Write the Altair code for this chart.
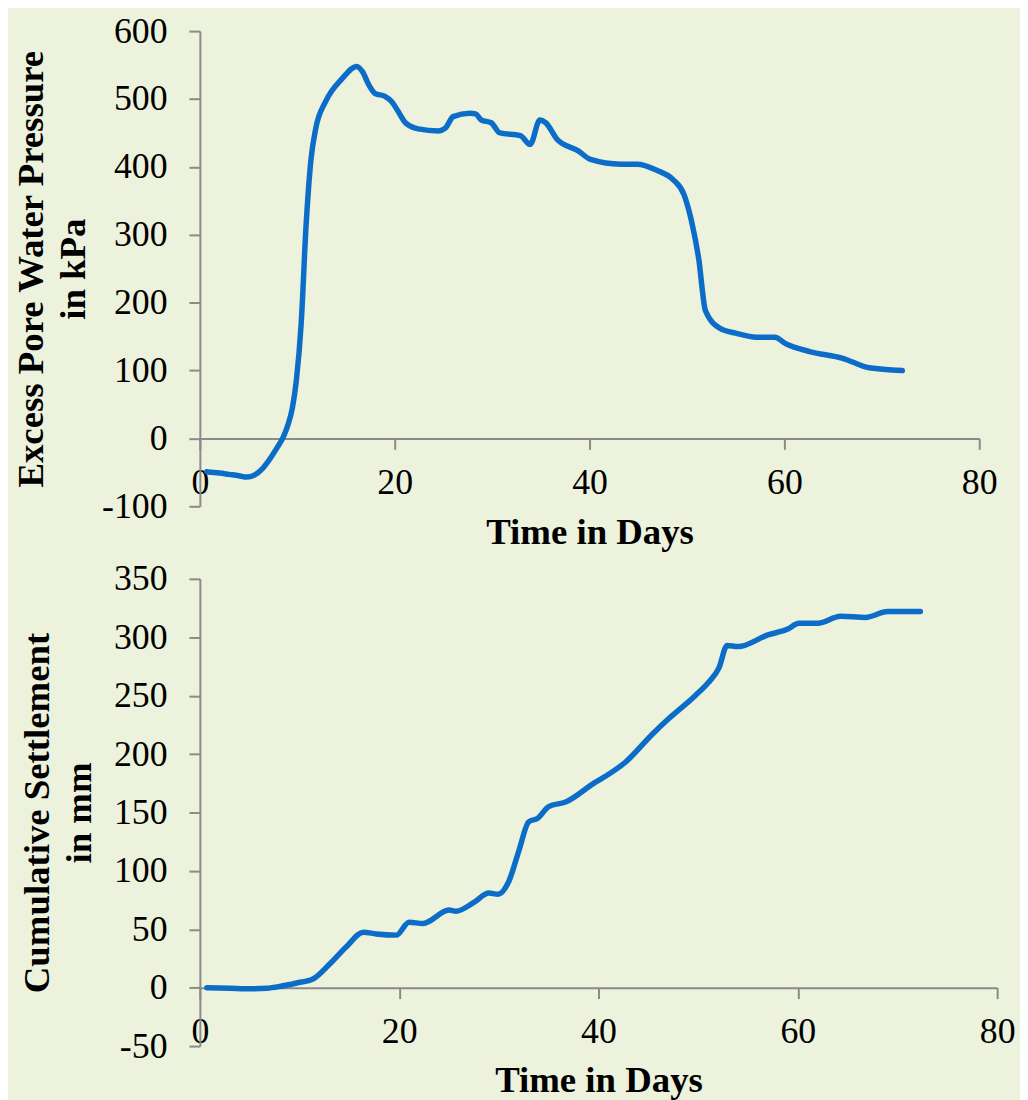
import altair as alt
import pandas as pd

# ---- data ----
days_p = [0.7, 2, 3, 4, 4.8, 5.6, 6.4, 7.2, 8, 8.5, 9, 9.5, 9.9, 10.4, 10.9,
          11.4, 11.9, 12.9, 14.6, 16.1, 16.7, 17.3, 18.0, 19.0, 19.7, 20.3,
          21.1, 22.4, 24.5, 25.2, 26.0, 27.7, 28.3, 28.9, 29.9, 30.8, 32.9,
          33.9, 34.9, 35.5, 36.7, 38.8, 40.1, 43.2, 44.9, 46.9, 48.6, 49.7,
          50.5, 51.2, 51.9, 53.4, 55.0, 57.1, 59.0, 60.2, 62.6, 66.0, 68.7, 72.1]
pressure = [-49, -51, -53, -55, -57, -54, -45, -30, -12, 0, 18, 45, 85, 169, 313,
            410, 457, 496, 530, 548, 540, 522, 508, 504, 496, 483,
            465, 456, 453, 457, 474, 479, 478, 469, 465, 450, 446,
            433, 469, 465, 440, 424, 411, 404, 404, 395, 381, 359,
            318, 265, 188, 162, 155, 149, 149, 139, 128, 118, 104, 100]

days_s = [0.7, 3, 5, 6.7, 8, 9.7, 11.4, 13, 14.7, 16.4, 17.7, 19.7, 21, 22.4,
          25, 25.7, 27.5, 29, 29.9, 31, 32, 33, 33.9, 35, 36.7, 39.7, 40.7,
          42.7, 45.4, 47, 49.7, 51, 52.1, 52.9, 54, 57, 59, 60.1, 62, 64.3,
          66.8, 69, 72.3]
settle = [0, -0.5, -1, -0.5, 1, 4, 7.7, 20, 35, 47.5, 46, 45, 56, 55,
          66.5, 65.5, 73, 81, 80, 91, 117, 142, 145, 155, 159, 176, 181,
          193, 217, 230, 250, 261, 274, 293, 292, 302, 307, 312, 312, 318,
          317, 322, 322]

x_ticks = [0, 20, 40, 60, 80]
p_ticks = [-100, 0, 100, 200, 300, 400, 500, 600]
s_ticks = [-50, 0, 50, 100, 150, 200, 250, 300, 350]

FONT = "Liberation Serif"
BG = "#EDF2DC"
LINE = "#0B6DC7"
AXIS = "#8A8A8A"


def panel(days, vals, ytitle, ydomain, yticks, width, height, title_pad, x_title_pad):
    df = pd.DataFrame({"day": days, "val": vals})
    # x axis crosses the y axis at value 0
    off = -height * (0 - ydomain[0]) / (ydomain[1] - ydomain[0])
    x = alt.X("day:Q",
              scale=alt.Scale(domain=[0, 80], nice=False, zero=False),
              axis=alt.Axis(values=x_ticks, title="Time in Days", offset=off,
                            labelFlush=False, labelPadding=16,
                            titlePadding=x_title_pad, labelOverlap=False))
    y = alt.Y("val:Q",
              scale=alt.Scale(domain=ydomain, nice=False, zero=False),
              axis=alt.Axis(values=yticks, title=ytitle, titlePadding=title_pad,
                            labelPadding=22, labelExpr="'' + datum.value",
                            labelOverlap=False))
    return (alt.Chart(df)
            .mark_line(color=LINE, strokeWidth=5.5, interpolate="monotone",
                       strokeCap="round", strokeJoin="round")
            .encode(x=x, y=y)
            .properties(width=width, height=height))


top = panel(days_p, pressure, ["Excess Pore Water Pressure", "in kPa"],
            [-100, 600], p_ticks, 784, 478, 9, 15)
bottom = panel(days_s, settle, ["Cumulative Settlement", "in mm"],
               [-50, 350], s_ticks, 802, 470, 15, 13)

chart = (alt.vconcat(top, bottom, spacing=10)
         .properties(background=BG,
                     padding={"left": 5, "top": 2, "right": 5, "bottom": 0})
         .configure_view(stroke=None)
         .configure_axis(domainColor=AXIS, domainWidth=2, tickColor=AXIS,
                         tickWidth=2, tickSize=11, grid=False,
                         labelFont=FONT, labelFontSize=36, labelColor="black",
                         titleFont=FONT, titleFontSize=37, titleFontWeight="bold",
                         titleColor="black", titleLineHeight=42))

chart.save("out.html", embed_options={"renderer": "svg", "actions": False})
